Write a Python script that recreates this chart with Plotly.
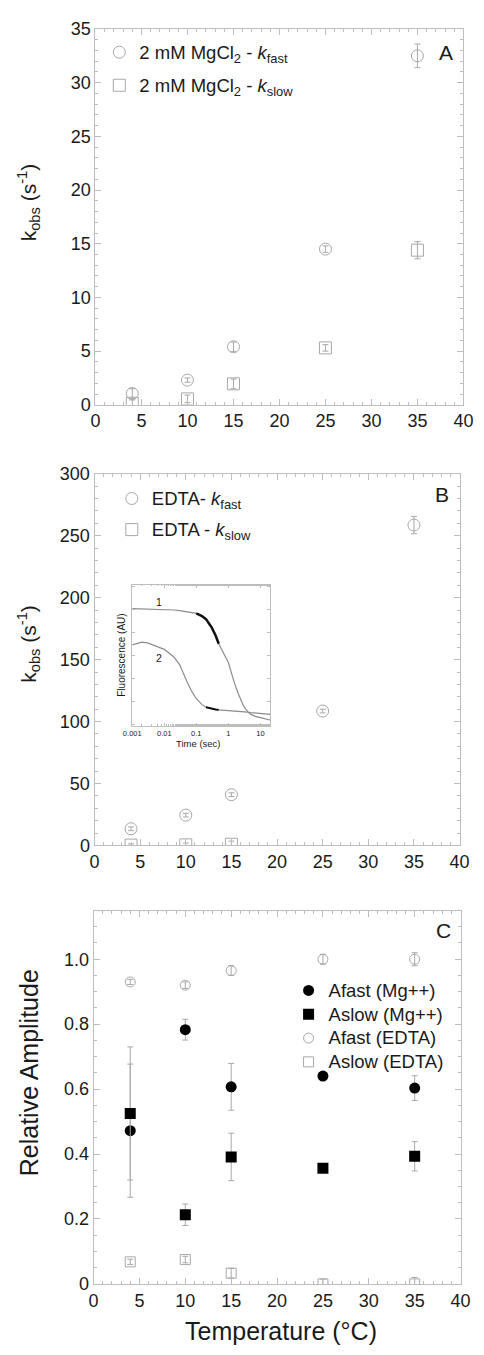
import plotly.graph_objects as go

# ---------------- data ----------------
temps = [4, 10, 15, 25, 35]

# Panel A (2 mM MgCl2)
a_kfast = [1.05, 2.3, 5.4, 14.5, 32.5]
a_kfast_err = [0.45, 0.2, 0.45, 0.3, 1.1]
a_kslow = [0.15, 0.55, 1.95, 5.3, 14.4]
a_kslow_err = [0.3, 0.35, 0.45, 0.3, 0.8]

# Panel B (EDTA)
b_kfast = [13.5, 24.5, 41.0, 108.5, 258.6]
b_kfast_err = [1.5, 1.5, 1.5, 1.5, 7.0]
temps_b_slow = [4, 10, 15]
b_kslow = [0.3, 0.5, 1.0]
b_kslow_err = [1.0, 1.5, 2.5]

# Panel C (relative amplitudes)
c_afast_mg = [0.472, 0.783, 0.607, 0.640, 0.603]
c_afast_mg_err = [0.205, 0.032, 0.072, 0.0, 0.038]
c_aslow_mg = [0.525, 0.213, 0.391, 0.356, 0.393]
c_aslow_mg_err = [0.205, 0.033, 0.073, 0.0, 0.045]
c_afast_edta = [0.930, 0.920, 0.965, 1.000, 1.000]
c_afast_edta_err = [0.008, 0.01, 0.015, 0.015, 0.02]
c_aslow_edta = [0.068, 0.075, 0.033, 0.0, 0.0]
c_aslow_edta_err = [0.008, 0.01, 0.015, 0.015, 0.02]

# Inset: fluorescence traces
inset_t = [0.001, 0.002, 0.003, 0.005, 0.007, 0.01, 0.02, 0.03, 0.05, 0.07, 0.1, 0.15,
           0.2, 0.3, 0.4, 0.5, 0.7, 1, 1.5, 2, 3, 4, 5, 7, 10, 15, 20]
inset_trace1 = [0.830, 0.829, 0.828, 0.827, 0.826, 0.825, 0.821, 0.817, 0.810, 0.805, 0.797,
                0.778, 0.756, 0.698, 0.640, 0.582, 0.512, 0.449, 0.314, 0.233, 0.140, 0.101,
                0.082, 0.068, 0.059, 0.049, 0.042]
inset_trace2 = [0.574, 0.593, 0.588, 0.570, 0.558, 0.542, 0.488, 0.435, 0.319, 0.249, 0.193,
                0.151, 0.133, 0.121, 0.117, 0.114, 0.112, 0.109, 0.105, 0.102, 0.100, 0.098,
                0.095, 0.091, 0.086, 0.084, 0.082]
fit1_window = (0.1, 0.5)
fit2_window = (0.2, 0.5)

x_ticks = [0, 5, 10, 15, 20, 25, 30, 35, 40]
c_yticks = [0, 0.2, 0.4, 0.6, 0.8, 1.0]
c_yticktext = ["0", "0.2", "0.4", "0.6", "0.8", "1.0"]
inset_xticks = [0.001, 0.01, 0.1, 1, 10]
inset_xticktext = ["0.001", "0.01", "0.1", "1", "10"]

# ---------------- style ----------------
W, H = 484, 1355
FONT = "Liberation Sans, Arial, Helvetica, sans-serif"
GRAY = "#a8a8a8"
AX = "#bdbdbd"
TXT = "#1a1a1a"

def px(xp):
    return xp / W

def py(yp):
    return 1 - yp / H

def big(s, size=18.5):
    return f'<span style="font-size:{size}px">{s}</span>'

def err(vals, color=GRAY):
    return dict(type="data", array=vals, visible=True, color=color, thickness=1, width=3)

fig = go.Figure()

# Panel A
fig.add_trace(go.Scatter(x=temps, y=a_kfast, mode="markers", xaxis="x", yaxis="y",
    name=big("2 mM MgCl<sub>2</sub> - <i>k</i><sub>fast</sub>"),
    marker=dict(symbol="circle-open", size=12, color=GRAY, line=dict(width=1, color=GRAY)),
    error_y=err(a_kfast_err), legend="legend", legendgroup="a1"))
fig.add_trace(go.Scatter(x=temps, y=a_kslow, mode="markers", xaxis="x", yaxis="y",
    name=big("2 mM MgCl<sub>2</sub> - <i>k</i><sub>slow</sub>"),
    marker=dict(symbol="square-open", size=12, color=GRAY, line=dict(width=1, color=GRAY)),
    error_y=err(a_kslow_err), legend="legend", legendgroup="a2"))

# Panel B
fig.add_trace(go.Scatter(x=temps, y=b_kfast, mode="markers", xaxis="x2", yaxis="y2",
    name=big("EDTA- <i>k</i><sub>fast</sub>"),
    marker=dict(symbol="circle-open", size=12, color=GRAY, line=dict(width=1, color=GRAY)),
    error_y=err(b_kfast_err), legend="legend2", legendgroup="b1"))
fig.add_trace(go.Scatter(x=temps_b_slow, y=b_kslow, mode="markers", xaxis="x2", yaxis="y2",
    name=big("EDTA - <i>k</i><sub>slow</sub>"),
    marker=dict(symbol="square-open", size=12, color=GRAY, line=dict(width=1, color=GRAY)),
    error_y=err(b_kslow_err), legend="legend2", legendgroup="b2"))

# Inset
fig.add_trace(go.Scatter(x=inset_t, y=inset_trace1, mode="lines", xaxis="x4", yaxis="y4",
    line=dict(color="#8c8c8c", width=1.2), showlegend=False))
fig.add_trace(go.Scatter(x=inset_t, y=inset_trace2, mode="lines", xaxis="x4", yaxis="y4",
    line=dict(color="#8c8c8c", width=1.2), showlegend=False))
f1 = [(t, v) for t, v in zip(inset_t, inset_trace1) if fit1_window[0] <= t <= fit1_window[1]]
f2 = [(t, v) for t, v in zip(inset_t, inset_trace2) if fit2_window[0] <= t <= fit2_window[1]]
fig.add_trace(go.Scatter(x=[p[0] for p in f1], y=[p[1] for p in f1], mode="lines",
    xaxis="x4", yaxis="y4", line=dict(color="#111", width=2.5), showlegend=False))
fig.add_trace(go.Scatter(x=[p[0] for p in f2], y=[p[1] for p in f2], mode="lines",
    xaxis="x4", yaxis="y4", line=dict(color="#111", width=2), showlegend=False))

# Panel C
fig.add_trace(go.Scatter(x=temps, y=c_afast_mg, mode="markers", xaxis="x3", yaxis="y3",
    name=big("Afast (Mg++)"), marker=dict(symbol="circle", size=11, color="black"),
    error_y=err(c_afast_mg_err), legend="legend3"))
fig.add_trace(go.Scatter(x=temps, y=c_aslow_mg, mode="markers", xaxis="x3", yaxis="y3",
    name=big("Aslow (Mg++)"), marker=dict(symbol="square", size=11, color="black"),
    error_y=err(c_aslow_mg_err), legend="legend3"))
fig.add_trace(go.Scatter(x=temps, y=c_afast_edta, mode="markers", xaxis="x3", yaxis="y3",
    name=big("Afast (EDTA)"),
    marker=dict(symbol="circle-open", size=10, color=GRAY, line=dict(width=1, color=GRAY)),
    error_y=err(c_afast_edta_err), legend="legend3"))
fig.add_trace(go.Scatter(x=temps, y=c_aslow_edta, mode="markers", xaxis="x3", yaxis="y3",
    name=big("Aslow (EDTA)"),
    marker=dict(symbol="square-open", size=10, color=GRAY, line=dict(width=1, color=GRAY)),
    error_y=err(c_aslow_edta_err), legend="legend3"))

def axis(domain, rng, dtick, minor_dtick, anchor, **kw):
    d = dict(domain=domain, range=rng, dtick=dtick, tick0=0, anchor=anchor,
             showline=True, linecolor=AX, linewidth=1, mirror="allticks",
             ticks="inside", ticklen=6, tickcolor=AX, tickwidth=1,
             showgrid=False, zeroline=False,
             tickfont=dict(family=FONT, size=18, color=TXT),
             minor=dict(ticks="inside", ticklen=3, tickcolor=AX, dtick=minor_dtick, tick0=0,
                        showgrid=False))
    d.update(kw)
    return d

xdomA = [px(90), px(473)]
xdomB = [px(89), px(469)]
xdomC = [px(88), px(470)]

fig.update_layout(
    width=W, height=H, margin=dict(l=0, r=0, t=0, b=0),
    paper_bgcolor="white", plot_bgcolor="white",
    font=dict(family=FONT, color=TXT),
    xaxis=axis(xdomA, [0, 40], 5, 1, "y", tickvals=x_ticks),
    yaxis=axis([py(400.7), py(19.3)], [0, 35], 5, 1, "x"),
    xaxis2=axis(xdomB, [0, 40], 5, 1, "y2", tickvals=x_ticks),
    yaxis2=axis([py(848), py(470.7)], [0, 300], 50, 10, "x2"),
    xaxis3=axis(xdomC, [0, 40], 5, 1, "y3", tickvals=x_ticks),
    yaxis3=axis([py(1293), py(914)], [0, 1.15], 0.2, 0.05, "x3",
                tickvals=c_yticks, ticktext=c_yticktext),
    xaxis4=dict(domain=[px(128.3), px(271.7)], type="log", range=[-3, 1.301], anchor="y4",
                showline=True, linecolor=AX, linewidth=1, mirror="allticks",
                ticks="inside", ticklen=3, tickcolor=AX,
                tickvals=inset_xticks, ticktext=inset_xticktext,
                tickfont=dict(family=FONT, size=7.5, color=TXT),
                showgrid=False, zeroline=False,
                minor=dict(ticks="inside", ticklen=1.5, tickcolor=AX, showgrid=False)),
    yaxis4=dict(domain=[py(726.7), py(583.3)], range=[0, 1], anchor="x4",
                showline=True, linecolor=AX, linewidth=1, mirror="allticks",
                ticks="inside", ticklen=3, tickcolor=AX, tick0=0.0115, dtick=0.1625,
                showticklabels=False, showgrid=False, zeroline=False,
                minor=dict(ticks="inside", ticklen=1.5, tickcolor=AX, showgrid=False)),
    legend=dict(x=px(94), y=py(25), xanchor="left", yanchor="top",
                bgcolor="rgba(0,0,0,0)", font=dict(family=FONT, size=17, color=TXT),
                tracegroupgap=8, itemclick=False),
    legend2=dict(x=px(107), y=py(478), xanchor="left", yanchor="top",
                 bgcolor="rgba(0,0,0,0)", font=dict(family=FONT, size=17, color=TXT),
                 tracegroupgap=6, itemclick=False),
    legend3=dict(x=px(291), y=py(978), xanchor="left", yanchor="top",
                 bgcolor="rgba(0,0,0,0)", font=dict(family=FONT, size=16, color=TXT),
                 tracegroupgap=0, itemclick=False),
)

ann = [
    dict(text="A", x=px(455), y=py(43), size=21),
    dict(text="B", x=px(451), y=py(492), size=21),
    dict(text="C", x=px(452), y=py(934), size=21),
    dict(text="k<sub>obs</sub> (s<sup>-1</sup>)", x=px(20), y=py(195), size=21, angle=-90),
    dict(text="k<sub>obs</sub> (s<sup>-1</sup>)", x=px(20), y=py(643), size=21, angle=-90),
    dict(text="Relative Amplitude", x=px(21), y=py(1079), size=25, angle=-90),
    dict(text="Temperature (°C)", x=px(283), y=py(1341), size=25),
    dict(text="Time (sec)", x=px(197), y=py(744), size=9.5),
    dict(text="Fluorescence (AU)", x=px(117), y=py(655), size=10, angle=-90),
    dict(text="1", x=px(156), y=py(601), size=10.5),
    dict(text="2", x=px(156), y=py(658), size=10.5),
]
for a in ann:
    fig.add_annotation(text=a["text"], x=a["x"], y=a["y"], xref="paper", yref="paper",
                       showarrow=False, xanchor="center", yanchor="middle",
                       textangle=a.get("angle", 0),
                       font=dict(family=FONT, size=a["size"], color=TXT))

fig.write_html("out.html", config={"displayModeBar": False},
               post_script="document.body.style.margin='0';document.body.style.padding='0';")
